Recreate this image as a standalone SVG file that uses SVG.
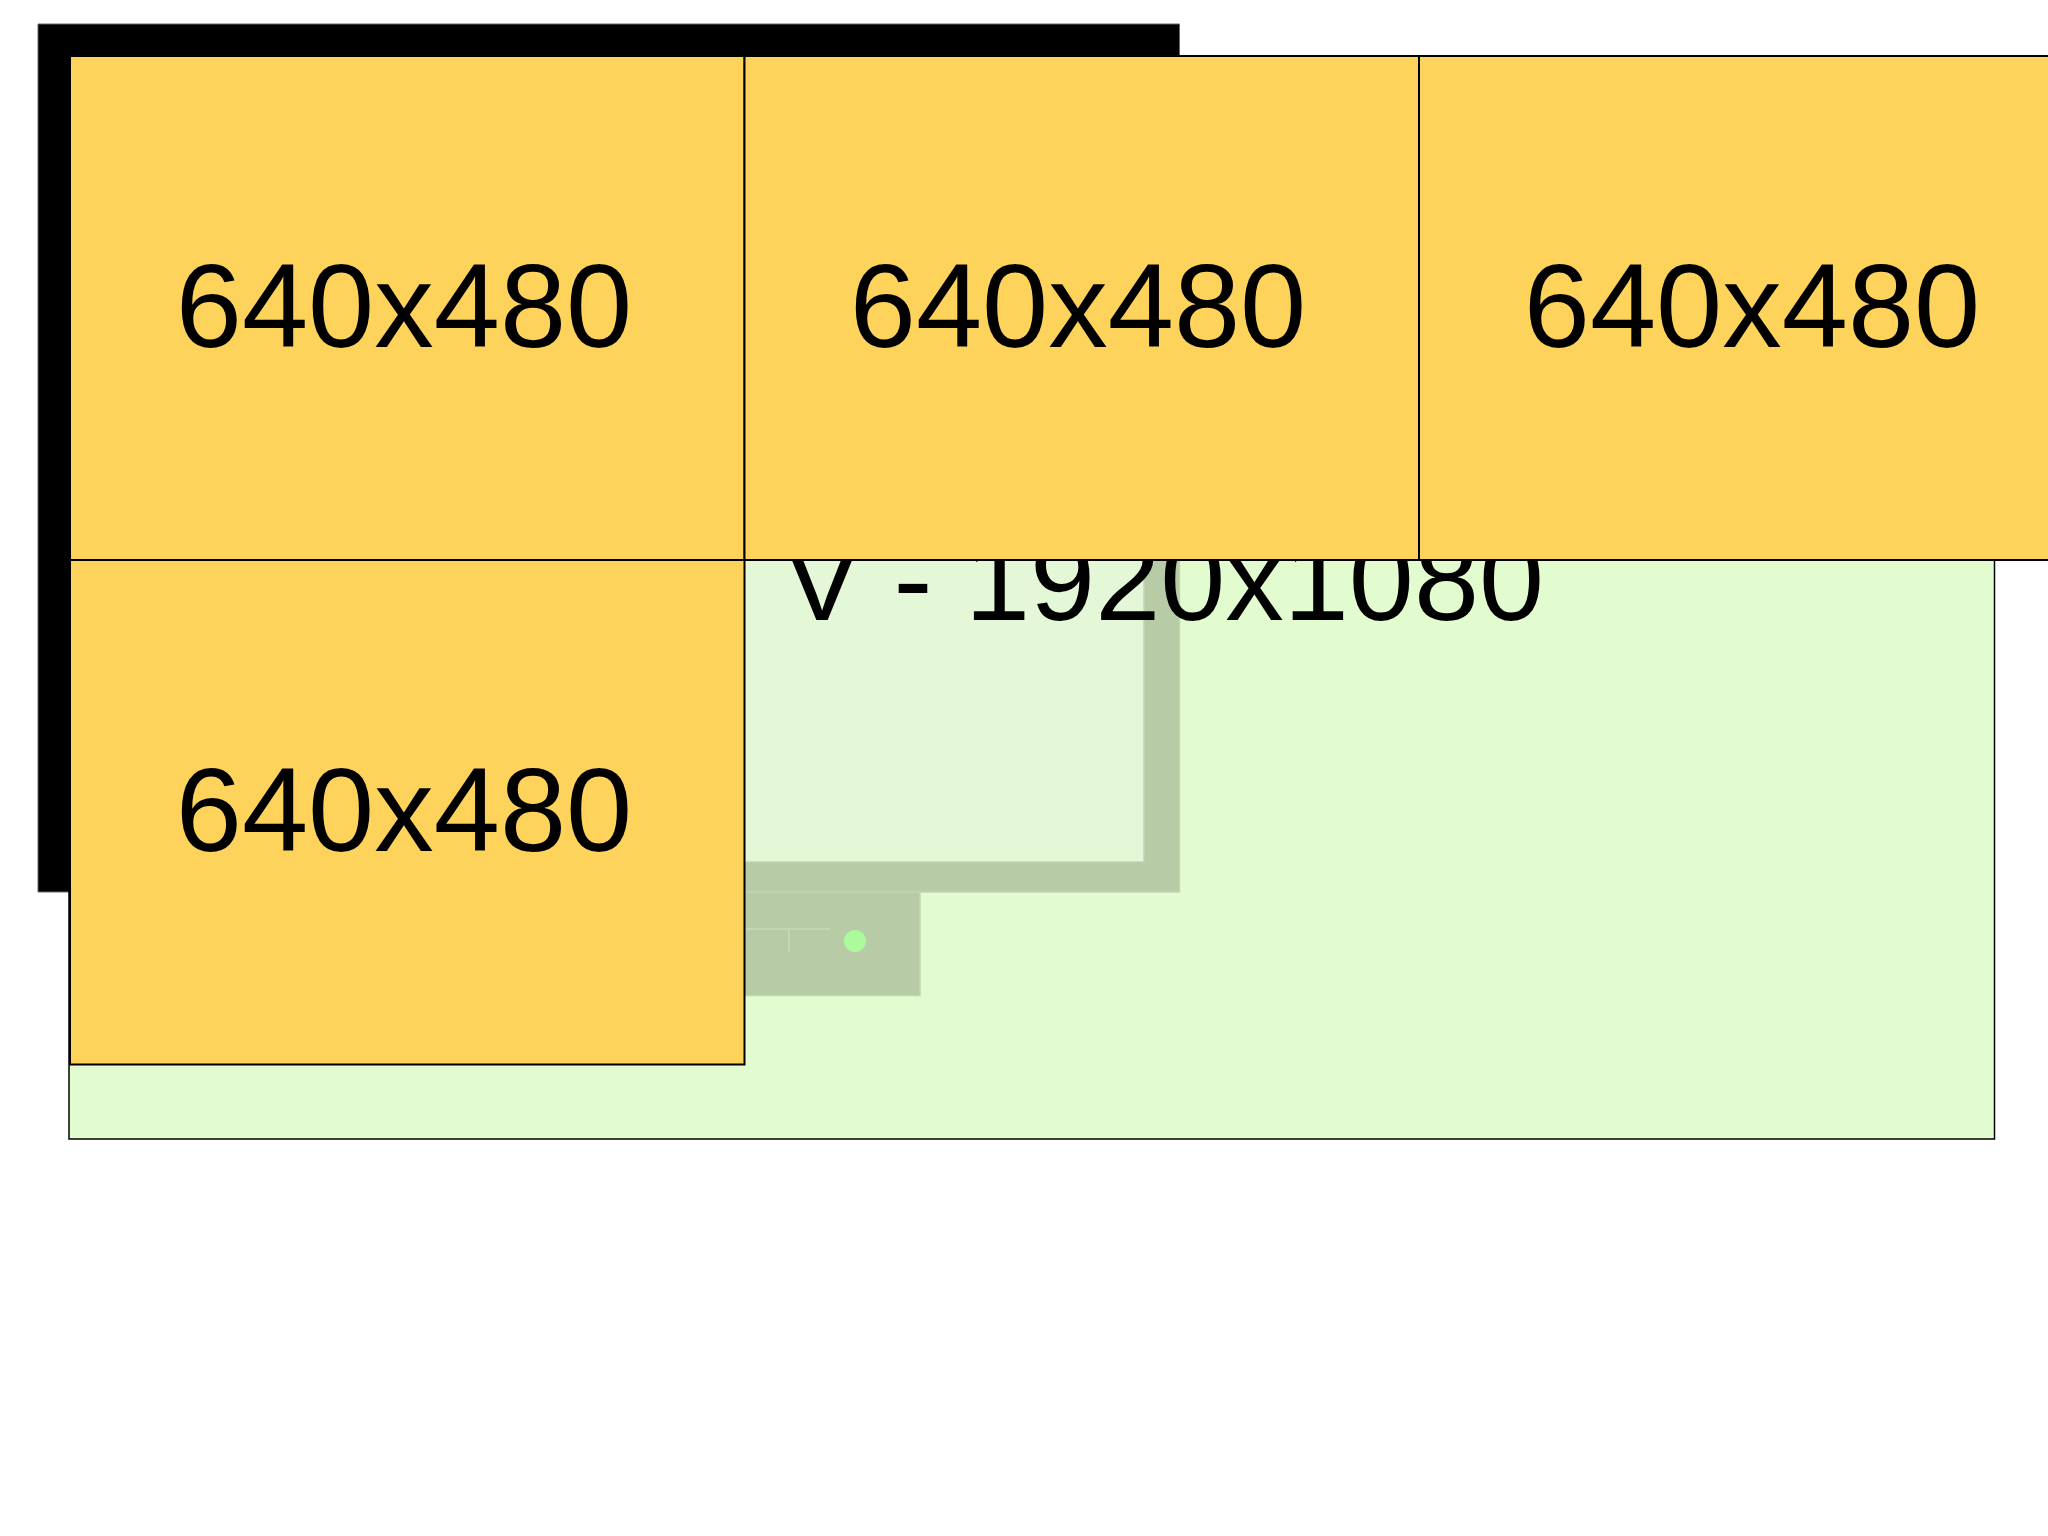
<svg xmlns="http://www.w3.org/2000/svg" width="2048" height="1536" viewBox="0 0 2048 1536">
  <style>
    .tile { fill: #FED35B; stroke: #000000; stroke-width: 2; }
    .tile-label { font-family: "Liberation Sans", Arial, sans-serif; font-size: 119px; fill: #000000; text-anchor: middle; }
    .view-label { font-family: "Liberation Sans", Arial, sans-serif; font-size: 117px; fill: #000000; }
    .dim { fill: #B7CBA7; stroke: #C2D5B2; stroke-width: 1.5; }
  </style>
  <rect width="2048" height="1536" fill="#FFFFFF"/>
  <g id="monitor-bezel">
    <path d="M38,24 H1179.5 V892 H38 Z M70,57 V862 H1144 V57 Z" fill="#000000" fill-rule="evenodd" stroke="#666666" stroke-width="1"/>
  </g>
  <g id="view-1920x1080">
    <rect x="69" y="56" width="1925.5" height="1083" fill="#E2FCD0" stroke="#000000" stroke-width="1.5"/>
  </g>
  <g id="monitor-under-view">
    <rect x="70" y="57" width="1074" height="805" fill="#E4F7D6"/>
    <path class="dim" d="M1144,57 H1179.5 V892 H70 V862 H1144 Z"/>
    <rect class="dim" x="298" y="892" width="622" height="103.5"/>
    <line x1="745" y1="929" x2="830" y2="929" stroke="#C4D7B5" stroke-width="2"/>
    <line x1="789" y1="929" x2="789" y2="952" stroke="#C4D7B5" stroke-width="2"/>
    <circle cx="855" cy="941" r="11" fill="#ADFA9D"/>
  </g>
  <g id="view-label">
    <text class="view-label" x="783" y="620">V - 1920x1080</text>
  </g>
  <g id="tile-1">
    <rect class="tile" x="70" y="56" width="674.5" height="504"/>
    <text class="tile-label" x="404" y="347">640x480</text>
  </g>
  <g id="tile-2">
    <rect class="tile" x="744.5" y="56" width="674.5" height="504"/>
    <text class="tile-label" x="1078" y="347">640x480</text>
  </g>
  <g id="tile-3">
    <rect class="tile" x="1419" y="56" width="674.5" height="504"/>
    <text class="tile-label" x="1752" y="347">640x480</text>
  </g>
  <g id="tile-4">
    <rect class="tile" x="70" y="560" width="674.5" height="504.5"/>
    <text class="tile-label" x="404" y="851">640x480</text>
  </g>
  <g id="connectors"></g>
</svg>
